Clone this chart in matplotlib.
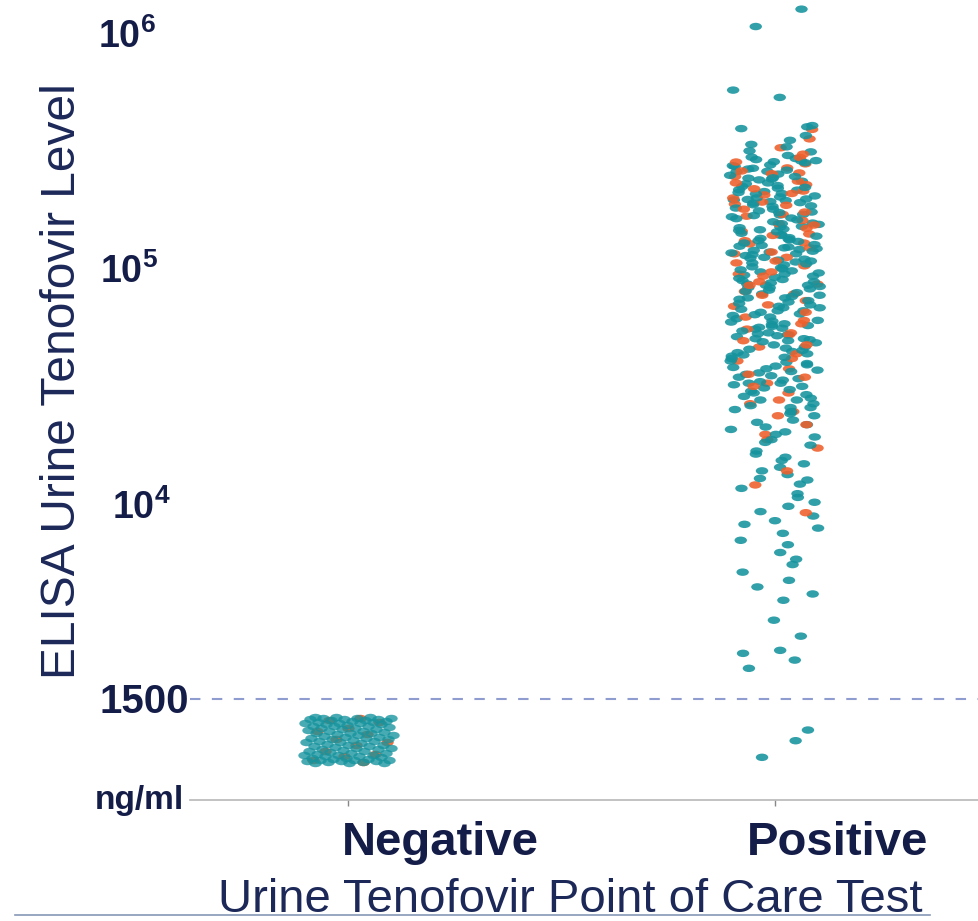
import numpy as np
import matplotlib
matplotlib.use('Agg')
import matplotlib.pyplot as plt
from matplotlib.path import Path
from matplotlib.lines import Line2D
from matplotlib.transforms import Affine2D, blended_transform_factory, offset_copy

plt.rcParams['font.family'] = ['Liberation Sans', 'DejaVu Sans']
plt.rcParams['mathtext.fontset'] = 'custom'
plt.rcParams['mathtext.rm'] = 'Liberation Sans'
plt.rcParams['mathtext.bf'] = 'Liberation Sans:bold'

# ---- data (ng/ml) ----
categories = ['Negative', 'Positive']

neg_teal = [1265, 1212, 1130, 1022, 945, 872, 820, 1250, 1176, 1074, 990, 910, 848, 805,
            1238, 1190, 1105, 1035, 962, 889, 832, 1258, 1160, 1088, 1004, 926, 860, 812,
            1226, 1142, 1060, 978, 902, 840, 1245, 1199, 1118, 1046, 968, 895, 826, 1232,
            1168, 1082, 1012, 935, 866, 808, 1262, 1184, 1097, 1028, 952, 880, 836, 1218,
            1150, 1066, 996, 918, 854, 815, 1240, 1172, 1110, 1040, 958, 884, 829, 1205,
            1136, 1054, 984, 906, 844, 802, 1254, 1193, 1124, 1016, 940, 870, 822, 1228,
            1156, 1078, 1000, 930, 862, 818]
neg_orange = [1248, 1196, 1135, 1070, 1015, 960, 905, 862, 830, 1220, 1100, 985, 880, 815]

# positive group, thousands of ng/ml
pos_teal_k = [1280, 1080, 580, 540, 410, 405, 398,
              372, 355, 341, 333, 320, 317, 306, 301, 297, 294, 291, 288,
              285, 279, 277, 268, 265, 261, 255, 252, 246, 243, 241, 234, 232, 228, 224, 222,
              219, 215, 213, 210, 206, 204, 202, 200, 198, 197, 195, 193,
              189, 186, 183, 181, 178, 175, 172, 170, 168, 165, 163, 160, 158, 156, 153, 151,
              149, 147, 145, 143, 141, 139, 137, 135, 134, 132, 130, 128, 127, 125, 124, 122,
              121, 120, 118, 117, 116,
              115, 113, 111, 110, 108, 106, 105, 103, 102, 100, 99, 97, 96, 95, 93, 92, 91, 90,
              88, 87, 86, 85, 84, 83, 82, 81,
              80, 79, 77, 76, 75, 73, 72, 71, 70, 69, 68, 67, 66, 65, 64, 63, 62, 61, 60, 59,
              58, 57.5, 57, 56, 55, 54, 53, 52.5, 52, 51, 50.5, 50,
              49, 48, 47, 46, 45.5, 45, 44, 43, 42.5, 42, 41, 40, 39.5, 39, 38, 37, 36.5, 36,
              35, 34.5, 34, 33, 32.5, 32, 31.5, 31,
              30, 29, 28.5, 28, 27, 26.5, 26, 25, 24.5, 24, 23, 22.5, 22, 21.5, 21, 20.5, 20,
              19.5, 19,
              18.5, 18, 17, 16.5, 16, 15.5, 15, 14.5, 14, 13.5, 13, 12.8,
              12.3, 11.8, 11.2, 10.8, 10.3, 9.9, 9.4, 9.0, 8.6, 8.3, 8.0,
              7.6, 7.1, 6.8, 6.3, 5.9, 5.6, 5.2, 4.8, 4.5, 4.2, 3.95,
              3.25, 2.78, 2.42, 2.35, 2.2, 2.03, 1.11, 1.0, 0.85,
              290, 275, 262, 249, 238, 226, 211, 199, 187, 176, 166, 157, 148, 140, 133, 126,
              119, 112, 107, 101, 94, 89, 84, 78, 74, 69, 64.5, 60.5, 56.5, 53.5, 49.5, 46.5,
              43.5, 40.5, 37.5, 35.5, 33.5, 30.5, 28, 26, 270, 245, 218, 192, 171, 152, 136,
              123, 109, 98, 86, 76, 67, 58.5, 51, 44.5, 38.5, 33, 29.5, 25.5]
pos_orange_k = [395, 360, 330, 300, 282, 271, 263, 256, 249, 238, 230, 221, 216, 208, 202,
                194, 188, 181, 176, 169, 162, 157, 150, 146, 140, 133, 129, 124, 119, 113,
                109, 104, 98, 94, 89, 86, 81, 78, 74, 70, 66, 63, 59, 56, 53, 50, 47, 44,
                41, 38, 35, 33, 30, 27, 25, 22, 20, 17.5, 14, 12.2, 9.3,
                310, 287, 258, 234, 211, 190, 172, 155, 142, 130, 117, 107, 96, 87, 79, 71,
                61, 54, 48, 42, 36, 32, 28, 24, 19]

cutoff = 1500
tick_vals = [1e6, 1e5, 1e4]
tick_labels = [r'$\mathbf{10^6}$', r'$\mathbf{10^5}$', r'$\mathbf{10^4}$']

TEAL = '#15939d'
ORANGE = '#ef5f2a'
NAVY = '#141c48'
NAVY2 = '#1c2858'

W, H = 979, 921
fig = plt.figure(figsize=(W / 100, H / 100), dpi=100)
ax = fig.add_axes([190 / W, 1 - 800 / H, 1 - 190 / W, 800 / H])
ax.set_yscale('log')
ax.set_ylim(560, 1.4e6)
ax.set_xlim(-0.37, 1.478)

circ = Path.unit_circle()
ellipse = Path(Affine2D().scale(1.0, 0.6).transform(circ.vertices), circ.codes)


def hashfrac(n, seed):
    # deterministic jitter, no RNG
    i = np.arange(n) + seed
    return (np.sin(i * 12.9898 + seed * 78.233) * 43758.5453) % 1.0


def jitter(values, half, seed, mix):
    v = np.sort(np.asarray(values, float))[::-1]
    n = len(v)
    off = ((np.arange(n) * 0.618034 + seed * 0.13 + mix * hashfrac(n, seed)) % 1.0) - 0.5
    return off * 2 * half, v


def strip(xpos, groups, mix, seed_order):
    xs, ys, cs = [], [], []
    for values, color, half, seed in groups:
        dx, v = jitter(values, half, seed, mix)
        xs.append(xpos + dx)
        ys.append(v)
        cs += [color] * len(v)
    x = np.concatenate(xs)
    y = np.concatenate(ys)
    order = np.argsort(hashfrac(len(x), seed_order))
    ax.scatter(x[order], y[order], marker=ellipse, s=80,
               c=np.array(cs)[order], alpha=0.88, linewidths=0, zorder=3)


# negative: orange partly hidden under teal
dx, v = jitter(neg_orange, 0.095, 5, 0.0)
ax.scatter(dx, v, marker=ellipse, s=80, c=ORANGE, alpha=0.9, linewidths=0, zorder=2)
dx, v = jitter(neg_teal, 0.105, 1, 0.0)
ax.scatter(dx, v, marker=ellipse, s=80, c=TEAL, alpha=0.78, linewidths=0, zorder=3)

strip(1, [(np.array(pos_teal_k) * 1000, TEAL, 0.105, 3),
          (np.array(pos_orange_k) * 1000, ORANGE, 0.1, 7)], 0.45, 11)

ax.axhline(cutoff, color='#8e9ccf', lw=1.5, ls=(0, (5, 5.5)), zorder=1)

for s in ['left', 'top', 'right']:
    ax.spines[s].set_visible(False)
ax.spines['bottom'].set_color('#b8b8b8')
ax.spines['bottom'].set_linewidth(1.2)
ax.set_xticks([0, 1])
ax.set_xticklabels([])
ax.tick_params(axis='x', length=4, width=1, color='#888888')
ax.tick_params(axis='y', which='both', left=False, labelleft=False)

# y tick labels placed like the slide
bt = blended_transform_factory(fig.transFigure, ax.transData)
for val, lab, xl in zip(tick_vals, tick_labels, [98, 100, 112]):
    ax.text(xl / W, val, lab, transform=offset_copy(bt, fig=fig, y=-9.6, units='points'),
            ha='left', va='baseline', fontsize=27, color=NAVY)
ax.text(189 / W, cutoff, '1500', transform=offset_copy(bt, fig=fig, y=-10.2, units='points'),
        ha='right', va='baseline', fontsize=29, fontweight='bold', color=NAVY)
ax.text(184 / W, 560, 'ng/ml', transform=bt, ha='right', va='center',
        fontsize=24, fontweight='bold', color=NAVY)

fig.text(63 / W, 1 - 381 / H, 'ELISA Urine Tenofovir Level', rotation=90,
         ha='center', va='center', fontsize=34.5, color=NAVY2)
for cat, xc in zip(categories, [440, 838]):
    fig.text(xc / W, 1 - 855 / H, cat, ha='center', va='baseline',
             fontsize=34, fontweight='bold', color=NAVY)
fig.text(570 / W, 1 - 912 / H, 'Urine Tenofovir Point of Care Test',
         ha='center', va='baseline', fontsize=34, color=NAVY2)

fig.add_artist(Line2D([15 / W, 930 / W], [1 - 915 / H] * 2, color='#8797b5', lw=1.2))

fig.savefig('out.png', dpi=100)
